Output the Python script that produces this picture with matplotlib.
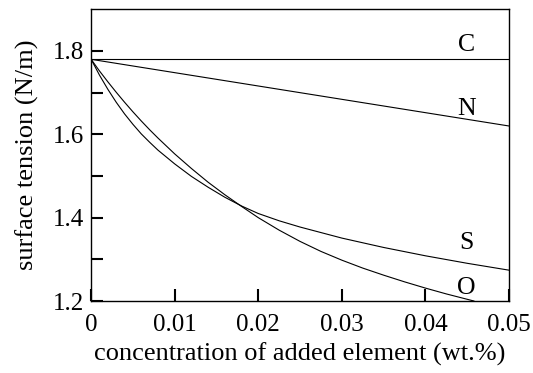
import matplotlib
matplotlib.use("Agg")
import matplotlib.pyplot as plt

plt.rcParams['font.family'] = ['Liberation Serif', 'DejaVu Serif']

# concentration (wt.%) and surface tension (N/m)
x_line = [0.0, 0.05]
c_vals = [1.78, 1.78]
n_vals = [1.78, 1.62]

x_s = [0.0, 0.001, 0.002, 0.003, 0.004, 0.005, 0.006, 0.007, 0.008, 0.010,
       0.012, 0.014, 0.016, 0.018, 0.020, 0.0225, 0.025, 0.030, 0.035,
       0.040, 0.045, 0.050]
s_vals = [1.78, 1.742, 1.708, 1.677, 1.649, 1.624, 1.601, 1.581, 1.562, 1.529,
          1.499, 1.473, 1.449, 1.428, 1.410, 1.3925, 1.3775, 1.351, 1.3285,
          1.3085, 1.2905, 1.274]

x_o = [0.0, 0.001, 0.002, 0.003, 0.004, 0.005, 0.006, 0.007, 0.008, 0.010,
       0.012, 0.014, 0.016, 0.018, 0.020, 0.0225, 0.025, 0.0275, 0.030,
       0.0325, 0.035, 0.0375, 0.040, 0.0425, 0.0458]
o_vals = [1.78, 1.752, 1.726, 1.701, 1.677, 1.654, 1.632, 1.611, 1.591, 1.553,
          1.518, 1.485, 1.455, 1.427, 1.400, 1.370, 1.343, 1.319, 1.298,
          1.279, 1.262, 1.246, 1.231, 1.217, 1.200]

labels = ['C', 'N', 'S', 'O']
label_x = [0.0449, 0.0449, 0.0449, 0.0449]
label_y = [1.815, 1.66, 1.34, 1.232]

x_ticks = [0, 0.01, 0.02, 0.03, 0.04, 0.05]
x_ticklabels = ['0', '0.01', '0.02', '0.03', '0.04', '0.05']
y_ticks = [1.2, 1.4, 1.6, 1.8]
y_minor = [1.3, 1.5, 1.7]

fig = plt.figure(figsize=(5.33, 3.73), dpi=100)
ax = fig.add_axes([0.171, 0.193, 0.784, 0.782])

lw = 0.8
ax.plot(x_line, c_vals, color='black', lw=lw)
ax.plot(x_line, n_vals, color='black', lw=lw)
ax.plot(x_s, s_vals, color='black', lw=lw)
ax.plot(x_o, o_vals, color='black', lw=lw)

for lab, lx, ly in zip(labels, label_x, label_y):
    ax.text(lx, ly, lab, fontsize=18.5, ha='center', va='center')

ax.set_xlim(0, 0.05)
ax.set_ylim(1.2, 1.9)
ax.set_xticks(x_ticks)
ax.set_xticklabels(x_ticklabels)
ax.set_yticks(y_ticks)
ax.set_yticklabels(['%.1f' % v for v in y_ticks])
ax.set_yticks(y_minor, minor=True)

ax.tick_params(axis='both', which='both', direction='in', length=8.5,
               width=1.5, labelsize=18, top=False, right=False)
ax.tick_params(axis='x', pad=9)
ax.tick_params(axis='y', pad=5)
for sp in ax.spines.values():
    sp.set_linewidth(1.0)

ax.set_xlabel('concentration of added element (wt.%)', fontsize=19, labelpad=5)
ax.set_ylabel('surface tension (N/m)', fontsize=19, labelpad=10)

fig.savefig('out.png', dpi=100)
